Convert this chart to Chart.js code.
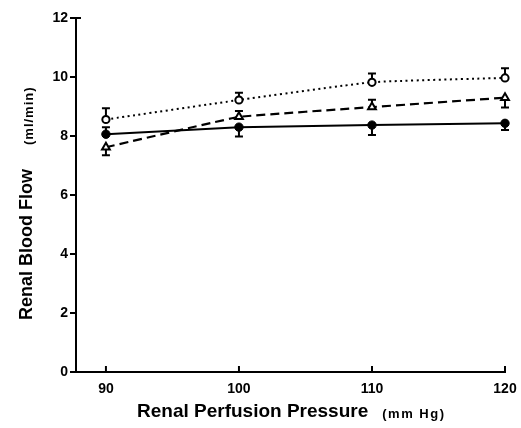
<!DOCTYPE html>
<html>
<head>
<meta charset="utf-8">
<script src="https://cdn.jsdelivr.net/npm/chart.js@4/dist/chart.umd.min.js"></script>
<style>
  html, body { margin: 0; padding: 0; background: #fff; }
  #wrap { width: 521px; height: 428px; }
</style>
</head>
<body>
<div id="wrap"><canvas id="chart"></canvas></div>
<script>
// pressures (mm Hg)
const pressure = [90, 100, 110, 120];
const yTicks = [0, 2, 4, 6, 8, 10, 12];

// open circles, dotted line
const openFlow = [8.56, 9.22, 9.82, 9.97];
const openErr = [0.38, 0.25, 0.3, 0.33];
const openDir = [1, 1, 1, 1];

// triangles, dashed line
const triFlow = [7.62, 8.65, 8.98, 9.3];
const triErr = [0.27, 0.2, 0.25, 0.33];
const triDir = [-1, 1, 1, -1];

// filled circles, solid line
const fillFlow = [8.06, 8.3, 8.37, 8.43];
const fillErr = [0.24, 0.32, 0.34, 0.23];
const fillDir = [1, -1, -1, -1];

const font = "'Liberation Sans', Arial, sans-serif";

function pts(vals) {
    return pressure.map((p, i) => ({ x: p, y: vals[i] }));
}

let errorBars = {
    id: 'errorBars',
    beforeDatasetsDraw(chart) {
        let ctx = chart.ctx;
        let xs = chart.scales.x, ys = chart.scales.y;
        ctx.save();
        ctx.strokeStyle = '#000';
        ctx.lineWidth = 2;
        chart.data.datasets.forEach(ds => {
            ds.data.forEach((d, i) => {
                let px = xs.getPixelForValue(d.x);
                let py = ys.getPixelForValue(d.y);
                let pe = ys.getPixelForValue(d.y + ds.err[i] * ds.dir[i]);
                ctx.beginPath();
                ctx.moveTo(px, py);
                ctx.lineTo(px, pe);
                ctx.moveTo(px - 4, pe);
                ctx.lineTo(px + 4, pe);
                ctx.stroke();
            });
        });
        ctx.restore();
    },
    afterDraw(chart) {
        let ctx = chart.ctx;
        let xs = chart.scales.x;
        let area = chart.chartArea;
        ctx.save();
        // x ticks pointing up
        ctx.strokeStyle = '#000';
        ctx.lineWidth = 2;
        pressure.forEach(p => {
            let px = xs.getPixelForValue(p);
            ctx.beginPath();
            ctx.moveTo(px, area.bottom);
            ctx.lineTo(px, area.bottom - 6);
            ctx.stroke();
        });
        // small tick at top of y axis
        ctx.beginPath();
        ctx.moveTo(area.left, area.top);
        ctx.lineTo(area.left + 5, area.top);
        ctx.stroke();

        ctx.fillStyle = '#000';
        ctx.textBaseline = 'middle';
        ctx.textAlign = 'left';
        // x title
        ctx.font = 'bold 19px ' + font;
        let t1 = 'Renal Perfusion Pressure';
        let w1 = ctx.measureText(t1).width;
        ctx.fillText(t1, 137, 412);
        ctx.font = 'bold 13px ' + font;
        ctx.letterSpacing = '1.5px';
        ctx.fillText('(mm Hg)', 137 + w1 + 14, 414);

        // y title
        ctx.letterSpacing = '0px';
        ctx.translate(27, 320);
        ctx.rotate(-Math.PI / 2);
        ctx.font = 'bold 18px ' + font;
        let u1 = 'Renal Blood Flow';
        let v1 = ctx.measureText(u1).width;
        ctx.fillText(u1, 0, 0);
        ctx.font = 'bold 13px ' + font;
        ctx.letterSpacing = '1px';
        ctx.fillText('(ml/min)', v1 + 24, 2);
        ctx.restore();
    }
};

let ctx = document.getElementById('chart');
new Chart(ctx, {
    type: 'line',
    data: {
        datasets: [{
            data: pts(openFlow),
            err: openErr, dir: openDir,
            borderColor: '#000', borderWidth: 2, borderDash: [2, 3.5],
            pointStyle: 'circle', pointRadius: 3.6, pointBorderWidth: 2,
            pointBackgroundColor: '#fff', pointBorderColor: '#000',
            tension: 0.15, fill: false, clip: false
        }, {
            data: pts(triFlow),
            err: triErr, dir: triDir,
            borderColor: '#000', borderWidth: 2.2, borderDash: [9, 5],
            pointStyle: 'triangle', pointRadius: 4.5, pointBorderWidth: 2,
            pointBackgroundColor: '#fff', pointBorderColor: '#000',
            tension: 0.05, fill: false, clip: false
        }, {
            data: pts(fillFlow),
            err: fillErr, dir: fillDir,
            borderColor: '#000', borderWidth: 2,
            pointStyle: 'circle', pointRadius: 4.2, pointBorderWidth: 1,
            pointBackgroundColor: '#000', pointBorderColor: '#000',
            tension: 0, fill: false, clip: false
        }]
    },
    options: {
        responsive: true,
        maintainAspectRatio: false,
        animation: false,
        layout: { padding: { left: 0, right: 16, top: 18, bottom: 0 } },
        plugins: { legend: { display: false }, tooltip: { enabled: false } },
        scales: {
            x: {
                type: 'linear',
                min: 87.75, max: 120,
                afterBuildTicks: s => { s.ticks = pressure.map(v => ({ value: v })); },
                afterFit: s => { s.height = 56; },
                grid: { display: false },
                border: { display: true, color: '#000', width: 2 },
                ticks: { color: '#000', padding: 1, font: { family: font, size: 14, weight: 'bold' } }
            },
            y: {
                min: 0, max: 12,
                afterBuildTicks: s => { s.ticks = yTicks.map(v => ({ value: v })); },
                afterFit: s => { s.width = 76; },
                grid: { display: true, drawOnChartArea: false, drawTicks: true, tickLength: 6, color: '#000', lineWidth: 2 },
                border: { display: true, color: '#000', width: 2 },
                ticks: { color: '#000', padding: 2, font: { family: font, size: 14, weight: 'bold' } }
            }
        }
    },
    plugins: [errorBars]
});
</script>
</body>
</html>
